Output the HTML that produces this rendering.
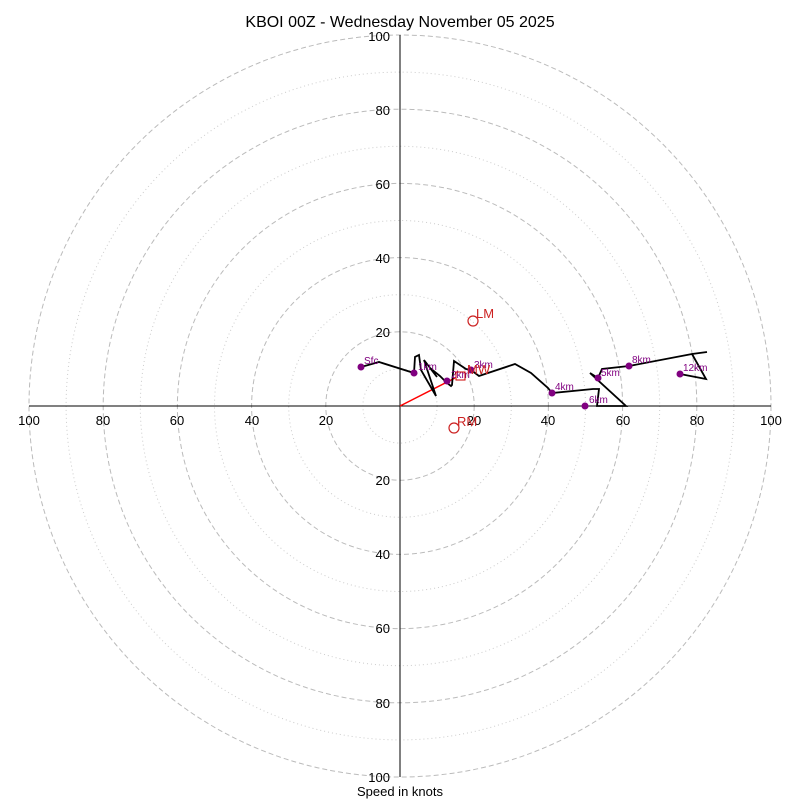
<!DOCTYPE html>
<html><head><style>body{margin:0;background:#fff}</style></head><body>
<svg width="800" height="800" xmlns="http://www.w3.org/2000/svg" font-family="Liberation Sans, DejaVu Sans, sans-serif">
<rect width="800" height="800" fill="#fff"/>
<g fill="none" stroke="#bbb">
<g stroke-dasharray="5,3">
<circle cx="400" cy="406" r="74.2"/><circle cx="400" cy="406" r="148.4"/><circle cx="400" cy="406" r="222.6"/><circle cx="400" cy="406" r="296.8"/><circle cx="400" cy="406" r="371"/>
</g>
<g stroke-dasharray="1,3" stroke="#ccc">
<circle cx="400" cy="406" r="37.1"/><circle cx="400" cy="406" r="111.3"/><circle cx="400" cy="406" r="185.5"/><circle cx="400" cy="406" r="259.7"/><circle cx="400" cy="406" r="333.9"/>
</g>
</g>
<line x1="29" y1="406" x2="771" y2="406" stroke="#000"/>
<line x1="400" y1="35" x2="400" y2="777" stroke="#000"/>
<g font-size="13" fill="#000" text-anchor="middle">
<text x="29" y="425">100</text><text x="103" y="425">80</text><text x="177" y="425">60</text><text x="252" y="425">40</text><text x="326" y="425">20</text>
<text x="474" y="425">20</text><text x="548" y="425">40</text><text x="623" y="425">60</text><text x="697" y="425">80</text><text x="771" y="425">100</text>
</g>
<g font-size="13" fill="#000" text-anchor="end">
<text x="390" y="41">100</text><text x="390" y="115">80</text><text x="390" y="189">60</text><text x="390" y="263">40</text><text x="390" y="337">20</text>
<text x="390" y="485">20</text><text x="390" y="559">40</text><text x="390" y="633">60</text><text x="390" y="708">80</text><text x="390" y="782">100</text>
</g>
<text x="400" y="796" font-size="13" text-anchor="middle">Speed in knots</text>
<text x="400" y="27" font-size="16" text-anchor="middle">KBOI 00Z - Wednesday November 05 2025</text>
<line x1="400" y1="406" x2="455" y2="378" stroke="red" stroke-width="1.5"/>
<polyline fill="none" stroke="#000" stroke-width="1.8" points="361,367 379,362 414,373 415,357 419,355 421,370 436,396 424,360 437,377 430,368 440,376 447,383 451,386 452,385 454,361 466,369 471,370 479,376 515,364 531,373 548,388 552,393 593,389 599,389 597,406 626,406 590,373 598,378 602,369 629,366 692,354 707,352"/>
<polyline fill="none" stroke="#000" stroke-width="1.8" points="692,354 706,379 680,374"/>
<g fill="purple">
<circle cx="361" cy="367" r="3.5"/><circle cx="414" cy="373" r="3.5"/><circle cx="447" cy="381" r="3.5"/><circle cx="471" cy="370" r="3.5"/><circle cx="552" cy="393" r="3.5"/><circle cx="598" cy="378" r="3.5"/><circle cx="585" cy="406" r="3.5"/><circle cx="629" cy="366" r="3.5"/><circle cx="680" cy="374" r="3.5"/>
</g>
<g fill="purple" font-size="10">
<text x="364" y="364">Sfc</text><text x="418" y="370">1km</text><text x="451" y="378">2km</text><text x="474" y="368">3km</text><text x="555" y="390">4km</text><text x="601" y="376">5km</text><text x="589" y="403">6km</text><text x="632" y="363">8km</text><text x="683" y="371">12km</text>
</g>
<rect x="456" y="372" width="9" height="8" fill="none" stroke="#c00"/>
<g fill="#c22" font-size="13">
<text x="467" y="374">MW</text><text x="476" y="318">LM</text><text x="457" y="426">RM</text>
</g>
<circle cx="473" cy="321" r="5" fill="none" stroke="#c22" stroke-width="1.2"/>
<circle cx="454" cy="428" r="5" fill="none" stroke="#c22" stroke-width="1.2"/>
</svg>
</body></html>
